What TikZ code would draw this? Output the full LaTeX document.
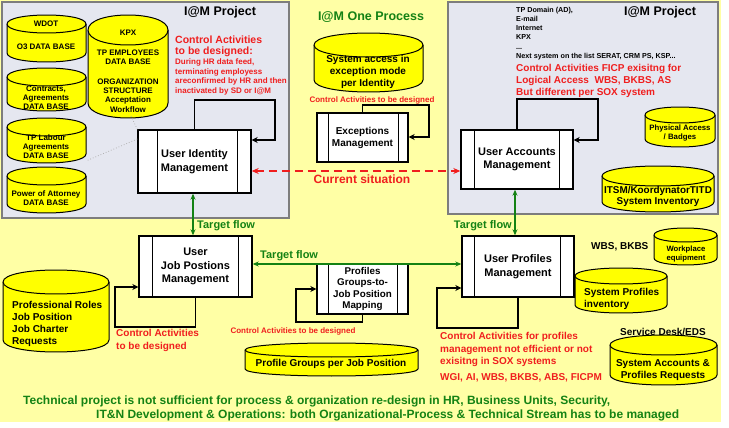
\documentclass[tikz,border=0pt]{standalone}
\usepackage{fontspec}
\setmainfont{Liberation Sans}
\usetikzlibrary{arrows.meta}
\definecolor{bgY}{RGB}{255,255,165}
\definecolor{panelC}{RGB}{229,231,240}
\definecolor{panelB}{RGB}{125,125,125}
\definecolor{cylY}{RGB}{255,255,0}
\definecolor{redT}{RGB}{240,30,30}
\definecolor{grn}{RGB}{20,130,20}
\newcommand\fs[2]{\fontsize{#1}{#2}\selectfont}
% name x1 y1 x2 y2 ry
\newcommand\cylshape[6]{%
 \filldraw[cylst] (#2,{#3+#6}) -- (#2,{#5-#6}) .. controls (#2,{#5+0.333*#6}) and (#4,{#5+0.333*#6}) .. (#4,{#5-#6}) -- (#4,{#3+#6}) .. controls (#4,{#3-0.333*#6}) and (#2,{#3-0.333*#6}) .. cycle;
 \draw[cylst] (#2,{#3+#6}) .. controls (#2,{#3+2.333*#6}) and (#4,{#3+2.333*#6}) .. (#4,{#3+#6});
 \coordinate (#1) at ({(#2+#4)/2},{(#3+#5)/2});
}
% name x1 y1 x2 y2 dl dr text extra-style
\newcommand\procbox[9]{%
 \node[pbox, minimum width={(#4-#2)*1pt}, minimum height={(#5-#3)*1pt}, #9] (#1) at ({(#2+#4)/2},{(#3+#5)/2}) {#8};
 \draw[pline] ([xshift=#6pt]#1.north west) -- ([xshift=#6pt]#1.south west);
 \draw[pline] ([xshift=-#7pt]#1.north east) -- ([xshift=-#7pt]#1.south east);
}
\begin{document}
\begin{tikzpicture}[x=1pt,y=-1pt,
 cylst/.style={fill=cylY, draw=black, line width=1pt},
 pbox/.style={draw=black, line width=1.4pt, fill=white, align=center, font=\bfseries\fs{11}{13.5}, inner sep=0},
 pline/.style={draw=black, line width=1pt},
 loopar/.style={draw=black, line width=1.3pt, -{Stealth[length=6pt,width=6pt]}},
 tflow/.style={draw=grn, line width=1.4pt, {Stealth[length=6pt,width=5pt]}-{Stealth[length=6pt,width=5pt]}},
 curr/.style={draw=redT, line width=1.8pt, dash pattern=on 8pt off 5pt, {Stealth[length=7pt,width=6pt]}-{Stealth[length=7pt,width=6pt]}},
 dotline/.style={draw=gray!60, line width=0.8pt, dotted},
 ct/.style={font=\bfseries\fs{8}{9}, align=center, inner sep=0},
 ctb/.style={font=\bfseries\fs{10}{12}, align=center, inner sep=0},
 redb/.style={text=redT, font=\bfseries\fs{10}{12.3}, align=left, inner sep=0},
 reds/.style={text=redT, font=\bfseries\fs{8}{9.6}, align=left, inner sep=0},
 tfl/.style={text=grn, font=\bfseries\fs{11}{13}, inner sep=0},
 ttl/.style={font=\bfseries\fs{12.5}{15}, inner sep=0}
]
\useasboundingbox (0,0) rectangle (729,428);
\fill[bgY] (0,0) rectangle (721,422);
\filldraw[fill=panelC, draw=panelB, line width=1.5pt] (2,2) rectangle (289,218);
\filldraw[fill=panelC, draw=panelB, line width=1.5pt] (448,2) rectangle (718,214);

% titles
\node[ttl] (tl) at (220,12) {I@M Project};
\node[ttl, text=grn] (tm) at (371,17) {I@M One Process};
\node[ttl] (tr) at (660,12) {I@M Project};

% left panel cylinders
\cylshape{wdot}{7}{15}{86}{62}{9}
\node[ct] (wdotA) at (46,24) {WDOT};
\node[ct] (wdotB) at (46,47) {O3 DATA BASE};
\cylshape{kpx}{88}{15}{168}{118}{15}
\node[ct] (kpxA) at (128,33) {KPX};
\node[ct] (kpxB) at (128,57) {TP EMPLOYEES\\DATA BASE};
\node[ct, font=\bfseries\fs{8}{9.3}] (kpxC) at (128,95.5) {ORGANIZATION\\STRUCTURE\\Acceptation\\Workflow};
\cylshape{contr}{7}{68}{86}{111}{9}
\node[ct] (contrT) at (46,97.5) {Contracts,\\Agreements\\DATA BASE};
\cylshape{labour}{7}{118}{86}{163}{9}
\node[ct] (labourT) at (46,146.5) {TP Labour\\Agreements\\DATA BASE};
\cylshape{poa}{7}{167}{86}{213}{9}
\node[ct] (poaT) at (46,198) {Power of Attorney\\DATA BASE};

\node[redb, font=\bfseries\fs{10.5}{11.5}] (caL) at (175,46.5) [anchor=west] {Control Activities\\to be designed:};
\node[reds] (caLs) at (175,77) [anchor=west] {During HR data feed,\\terminating employess\\areconfirmed by HR and then\\inactivated by SD or I@M};

% middle top
\cylshape{sysexc}{314}{33}{423}{92}{12}
\node[ctb] (sysexcT) at (368,71.5) {System access in\\exception mode\\per Identity};
\node[reds] (caE) at (372,100) {Control Activities to be designed};

% right panel
\node[font=\bfseries\fs{7.2}{9.2}, align=left, inner sep=0, anchor=west] (sysl) at (516,33.5) {TP Domain (AD),\\E-mail\\Internet\\KPX\\...\\Next system on the list SERAT, CRM PS, KSP...};
\node[redb, anchor=west] (caR) at (516,81) {Control Activities FICP exisitng for\\Logical Access\ \ WBS, BKBS, AS\\But different per SOX system};
\cylshape{phys}{645}{107}{715}{147}{8}
\node[ct, font=\bfseries\fs{7.8}{9.5}] (physT) at (680,133) {Physical Access\\/ Badges};
\cylshape{itsm}{602}{166}{714}{212}{10}
\node[ctb, font=\bfseries\fs{9.9}{10.5}] (itsmT) at (658,196.5) {ITSM/KoordynatorTITD\\System Inventory};

% process boxes
\procbox{uid}{138}{130}{251}{193}{20}{14}{User Identity\\Management}{}
\procbox{exc}{317}{113}{408}{162}{12}{10}{Exceptions\\Management}{font=\bfseries\fs{10}{12}}
\procbox{uam}{461}{130}{573}{189}{14}{14}{User Accounts\\Management}{}
\procbox{ujp}{139}{236}{252}{297}{14}{14}{User\\Job Postions\\Management}{}
\procbox{upm}{462}{236}{574}{297}{13}{14}{User Profiles\\Management}{}
\procbox{pgm}{317}{264}{408}{314}{12}{11}{Profiles\\Groups-to-\\Job Position\\Mapping}{font=\bfseries\fs{9.8}{11.3}}

% loops
\draw[loopar] (uid.north) -- (uid.north |- 0,100) -- (275,100) -- (275,140) -- (uid.east |- 0,140);
\draw[loopar] (exc.north) -- (exc.north |- 0,105) -- (429,105) -- (429,137) -- (exc.east |- 0,137);
\draw[loopar] (uam.north) -- (uam.north |- 0,99) -- (598,99) -- (598,140) -- (uam.east |- 0,140);
\draw[loopar] (ujp.south) -- (ujp.south |- 0,327) -- (115,327) -- (115,287) -- (ujp.west |- 0,287);
\draw[loopar] (upm.south) -- (upm.south |- 0,328) -- (437,328) -- (437,288) -- (upm.west |- 0,288);
\draw[loopar] (pgm.south) -- (pgm.south |- 0,322) -- (296,322) -- (296,289) -- (pgm.west |- 0,289);

% dotted faint lines
\draw[dotline] (131,116) -- (uid.north west);
\draw[dotline] (uid.west |- 0,139) -- (86,161);

% flows
\draw[curr] (uid.east |- 0,171) -- (uam.west |- 0,171);
\node[text=redT, font=\bfseries\fs{12}{14}, inner sep=0] (cs) at (362,179) {Current situation};
\draw[tflow] (193,193.7) -- (193,235.3);
\draw[tflow] (ujp.east |- 0,264) -- (upm.west |- 0,264);
\draw[tflow] (515,189.7) -- (515,235.3);
\node[tfl, anchor=west] (tf1) at (197,226) {Target flow};
\node[tfl, anchor=west] (tf2) at (260,256) {Target flow};
\node[tfl, anchor=east] (tf3) at (512,226) {Target flow};

% lower left
\cylshape{prof}{3}{270}{109}{352}{12}
\node[ctb, align=left, anchor=west] (profT) at (12,323.5) {Professional Roles\\Job Position\\Job Charter\\Requests};
\node[redb, anchor=west] (caJ) at (116,340.5) {Control Activities\\to be designed};

% lower middle
\node[reds] (caP) at (293,331) {Control Activities to be designed};
\cylshape{pgjp}{245}{343}{418}{376}{7}
\node[ctb] (pgjpT) at (331,364) {Profile Groups per Job Position};

% lower right
\node[font=\bfseries\fs{10}{12}, inner sep=0, anchor=west] (wbs) at (591,247) {WBS, BKBS};
\cylshape{work}{654}{228}{717}{265}{7}
\node[ct, font=\bfseries\fs{7.7}{9}] (workT) at (686,254) {Workplace\\equipment};
\cylshape{sysprof}{575}{268}{667}{313}{8}
\node[ctb, align=left, anchor=west] (sysprofT) at (584,298.5) {System Profiles\\inventory};
\node[font=\bfseries\fs{10}{12}, inner sep=0] (sd) at (663,332) {Service Desk/EDS};
\cylshape{sysacc}{610}{335}{717}{385}{10}
\node[ctb] (sysaccT) at (663,370) {System Accounts \&\\Profiles Requests};
\node[redb, anchor=west] (caU) at (440,349.5) {Control Activities for profiles\\management not efficient or not\\exisitng in SOX systems};
\node[redb, anchor=west] (wgi) at (440,378) {WGI, AI, WBS, BKBS, ABS, FICPM};

% bottom
\node[text=grn, font=\bfseries\fs{12}{14}, inner sep=0, anchor=west] (b1) at (23,401) {Technical project is not sufficient for process \& organization re-design in HR, Business Units, Security,};
\node[text=grn, font=\bfseries\fs{12}{14}, inner sep=0, anchor=west] (b2) at (96,415) {IT\&N Development \& Operations: both Organizational-Process \& Technical Stream has to be managed};
\end{tikzpicture}
\end{document}
